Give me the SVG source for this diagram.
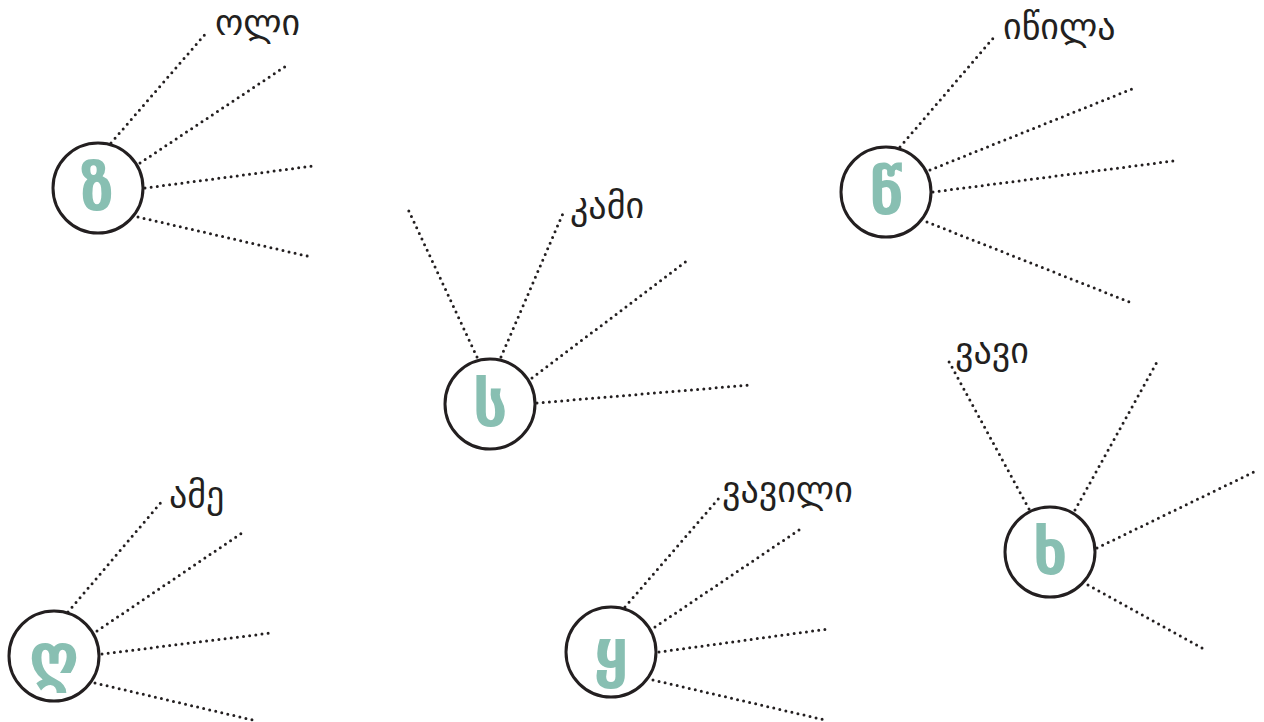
<svg xmlns="http://www.w3.org/2000/svg" width="1264" height="722" viewBox="0 0 1264 722">
<style>
.bg{fill:#ffffff}
.ring{fill:#ffffff;stroke:#231f20;stroke-width:3}
.ch{fill:#88bfb2;font-family:"DejaVu Sans",sans-serif;font-weight:bold;font-size:62px;text-anchor:middle;dominant-baseline:central}
.lb{fill:#231f20;font-family:"DejaVu Sans",sans-serif;font-size:36px}
.dot{stroke:#231f20;stroke-width:3;stroke-linecap:round;stroke-dasharray:0 6.2;fill:none}
</style>
<rect class="bg" x="0" y="0" width="1264" height="722"/>
<g id="connectors">
<line class="dot" x1="111" y1="143" x2="207" y2="32"/>
<line class="dot" x1="140" y1="163" x2="286" y2="66"/>
<line class="dot" x1="145" y1="188" x2="313" y2="166"/>
<line class="dot" x1="138" y1="217" x2="311" y2="257"/>
<line class="dot" x1="477" y1="357" x2="407" y2="207"/>
<line class="dot" x1="501" y1="357" x2="564" y2="211"/>
<line class="dot" x1="532" y1="378" x2="688" y2="260"/>
<line class="dot" x1="537" y1="403" x2="750" y2="385"/>
<line class="dot" x1="900" y1="147" x2="995" y2="36"/>
<line class="dot" x1="930" y1="170" x2="1132" y2="89"/>
<line class="dot" x1="933" y1="192" x2="1173" y2="161"/>
<line class="dot" x1="927" y1="222" x2="1132" y2="303"/>
<line class="dot" x1="1029" y1="509" x2="947" y2="358"/>
<line class="dot" x1="1075" y1="510" x2="1157" y2="362"/>
<line class="dot" x1="1097" y1="548" x2="1256" y2="471"/>
<line class="dot" x1="1088" y1="585" x2="1204" y2="649"/>
<line class="dot" x1="68" y1="612" x2="163" y2="500"/>
<line class="dot" x1="97" y1="631" x2="242" y2="533"/>
<line class="dot" x1="102" y1="654" x2="271" y2="633"/>
<line class="dot" x1="95" y1="683" x2="257" y2="721"/>
<line class="dot" x1="625" y1="607" x2="720" y2="497"/>
<line class="dot" x1="655" y1="627" x2="799" y2="530"/>
<line class="dot" x1="659" y1="652" x2="828" y2="629"/>
<line class="dot" x1="653" y1="680" x2="825" y2="720"/>
</g>
<g id="node-z"><circle class="ring" cx="98" cy="188" r="45"/><text class="ch" x="97" y="188">ზ</text><text class="lb" x="215" y="35">ოლი</text></g>
<g id="node-s"><circle class="ring" cx="490" cy="404" r="45"/><text class="ch" x="490" y="404">ს</text><text class="lb" x="570" y="218">კამი</text></g>
<g id="node-ts"><circle class="ring" cx="886" cy="192" r="45"/><text class="ch" x="886" y="192">წ</text><text class="lb" x="1003" y="39">იწილა</text></g>
<g id="node-kh"><circle class="ring" cx="1050" cy="552" r="45"/><text class="ch" x="1050" y="552">ხ</text><text class="lb" x="955" y="363">ვავი</text></g>
<g id="node-gh"><circle class="ring" cx="54" cy="656" r="45"/><text class="ch" x="54" y="656">ღ</text><text class="lb" x="169" y="507">ამე</text></g>
<g id="node-q"><circle class="ring" cx="611" cy="652" r="45"/><text class="ch" x="611" y="652">ყ</text><text class="lb" x="722" y="502">ვავილი</text></g>
</svg>
